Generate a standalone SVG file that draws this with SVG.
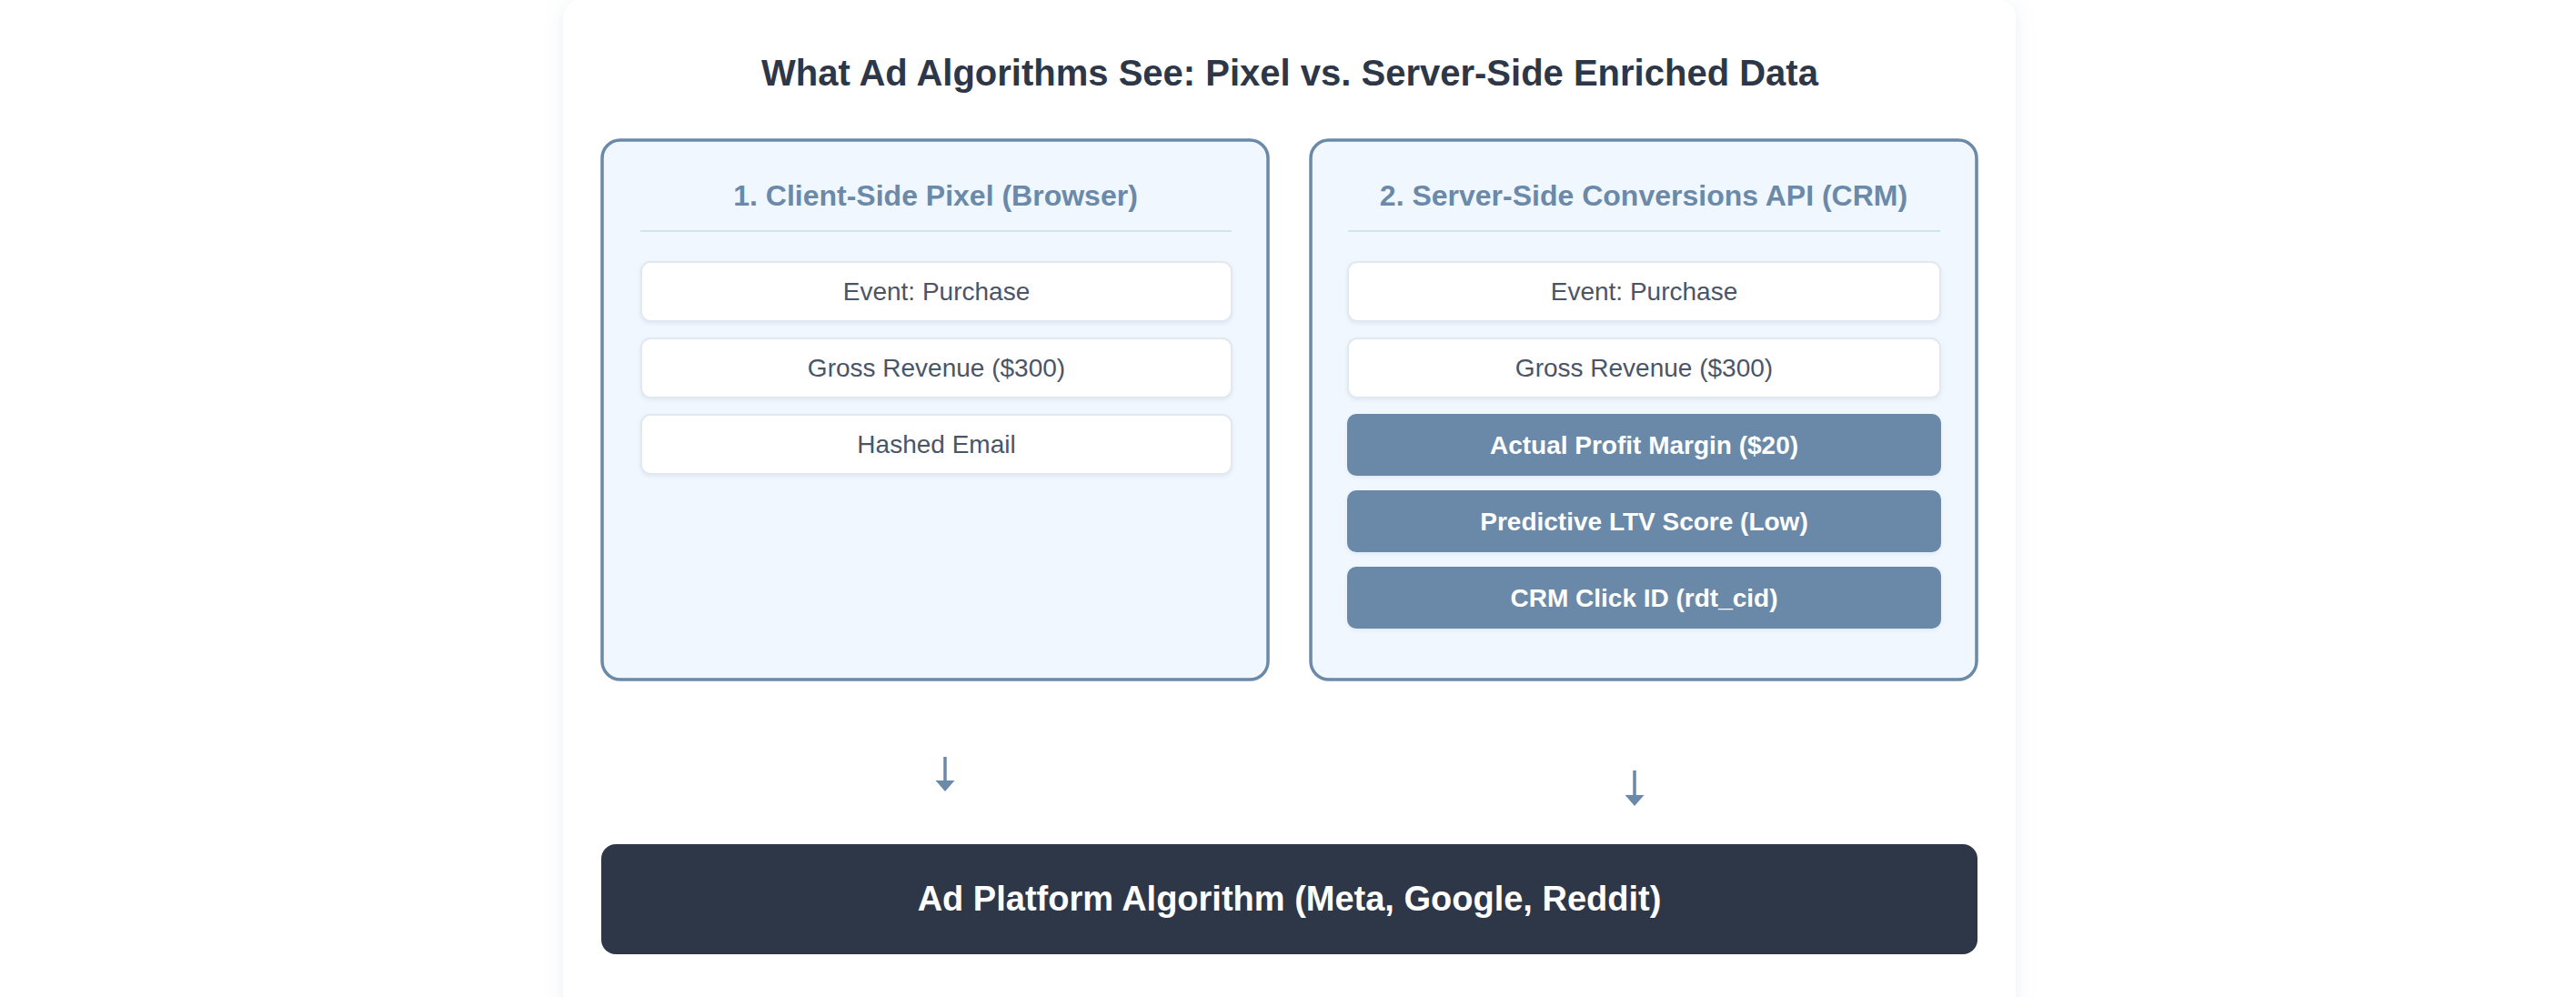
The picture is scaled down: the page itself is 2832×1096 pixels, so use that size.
<svg xmlns="http://www.w3.org/2000/svg" width="2832" height="1096" viewBox="0 0 2832 1096">
<defs>
<filter id="cardShadow" x="-5%" y="-5%" width="110%" height="110%">
<feDropShadow dx="0" dy="4" stdDeviation="10" flood-color="#8aa4c0" flood-opacity="0.18"/>
</filter>
<filter id="itemShadow" x="-5%" y="-20%" width="110%" height="150%">
<feDropShadow dx="0" dy="2" stdDeviation="2" flood-color="#94a3b8" flood-opacity="0.18"/>
</filter>
<marker id="arrowHead" viewBox="0 0 12 21" refX="1" refY="10.5" markerWidth="12" markerHeight="21" markerUnits="userSpaceOnUse" orient="auto">
<path d="M0,0 L12,10.5 L0,21 Z" fill="#6b89a8"/>
</marker>
</defs>
<style>
.title{font-family:"Liberation Sans",Arial,sans-serif;font-weight:bold;font-size:40px;fill:#2d3748;text-anchor:middle}
.panel{fill:#f0f7ff;stroke:#6b89a8;stroke-width:3.5}
.phead{font-family:"Liberation Sans",Arial,sans-serif;font-weight:bold;font-size:32px;fill:#6b89a8;text-anchor:middle}
.divider{stroke:#d3e2ef;stroke-width:2}
.item{fill:#ffffff;stroke:#e2e8f0;stroke-width:2}
.itxt{font-family:"Liberation Sans",Arial,sans-serif;font-size:28px;fill:#4a5568;text-anchor:middle}
.hi{fill:#6b89a8}
.htxt{font-family:"Liberation Sans",Arial,sans-serif;font-weight:bold;font-size:28px;fill:#ffffff;text-anchor:middle}
.conn{stroke:#6b89a8;stroke-width:3.5;fill:none}
.algo{fill:#2d3748}
.atxt{font-family:"Liberation Sans",Arial,sans-serif;font-weight:bold;font-size:38px;fill:#ffffff;text-anchor:middle}
</style>
<rect width="2832" height="1096" fill="#ffffff"/>
<g id="card">
<rect x="619" y="-2" width="1597" height="1130" rx="22" fill="#ffffff" filter="url(#cardShadow)"/>
</g>
<g id="title">
<text class="title" x="1418" y="94">What Ad Algorithms See: Pixel vs. Server-Side Enriched Data</text>
</g>
<g id="panel-client">
<rect class="panel" x="662" y="154" width="732" height="593" rx="20"/>
<text class="phead" x="1028.5" y="226">1. Client-Side Pixel (Browser)</text>
<line class="divider" x1="704" y1="254" x2="1354" y2="254"/>
<g id="client-event">
<rect class="item" x="705" y="288" width="649" height="65" rx="10" filter="url(#itemShadow)"/>
<text class="itxt" x="1029.5" y="330">Event: Purchase</text>
</g>
<g id="client-revenue">
<rect class="item" x="705" y="372" width="649" height="65" rx="10" filter="url(#itemShadow)"/>
<text class="itxt" x="1029.5" y="414">Gross Revenue ($300)</text>
</g>
<g id="client-email">
<rect class="item" x="705" y="456" width="649" height="65" rx="10" filter="url(#itemShadow)"/>
<text class="itxt" x="1029.5" y="498">Hashed Email</text>
</g>
</g>
<g id="panel-server">
<rect class="panel" x="1441" y="154" width="732" height="593" rx="20"/>
<text class="phead" x="1807" y="226">2. Server-Side Conversions API (CRM)</text>
<line class="divider" x1="1482" y1="254" x2="2133" y2="254"/>
<g id="server-event">
<rect class="item" x="1482" y="288" width="651" height="65" rx="10" filter="url(#itemShadow)"/>
<text class="itxt" x="1807.5" y="330">Event: Purchase</text>
</g>
<g id="server-revenue">
<rect class="item" x="1482" y="372" width="651" height="65" rx="10" filter="url(#itemShadow)"/>
<text class="itxt" x="1807.5" y="414">Gross Revenue ($300)</text>
</g>
<g id="server-margin">
<rect class="hi" x="1481" y="455" width="653" height="68" rx="10" filter="url(#itemShadow)"/>
<text class="htxt" x="1807.5" y="499">Actual Profit Margin ($20)</text>
</g>
<g id="server-ltv">
<rect class="hi" x="1481" y="539" width="653" height="68" rx="10" filter="url(#itemShadow)"/>
<text class="htxt" x="1807.5" y="583">Predictive LTV Score (Low)</text>
</g>
<g id="server-clickid">
<rect class="hi" x="1481" y="623" width="653" height="68" rx="10" filter="url(#itemShadow)"/>
<text class="htxt" x="1807.5" y="667">CRM Click ID (rdt_cid)</text>
</g>
</g>
<g id="connectors">
<line class="conn" x1="1039" y1="832" x2="1039" y2="859" marker-end="url(#arrowHead)"/>
<line class="conn" x1="1797" y1="847" x2="1797" y2="875" marker-end="url(#arrowHead)"/>
</g>
<g id="ad-platform">
<rect class="algo" x="661" y="928" width="1513" height="121" rx="16"/>
<text class="atxt" x="1417.5" y="1001">Ad Platform Algorithm (Meta, Google, Reddit)</text>
</g>
</svg>
